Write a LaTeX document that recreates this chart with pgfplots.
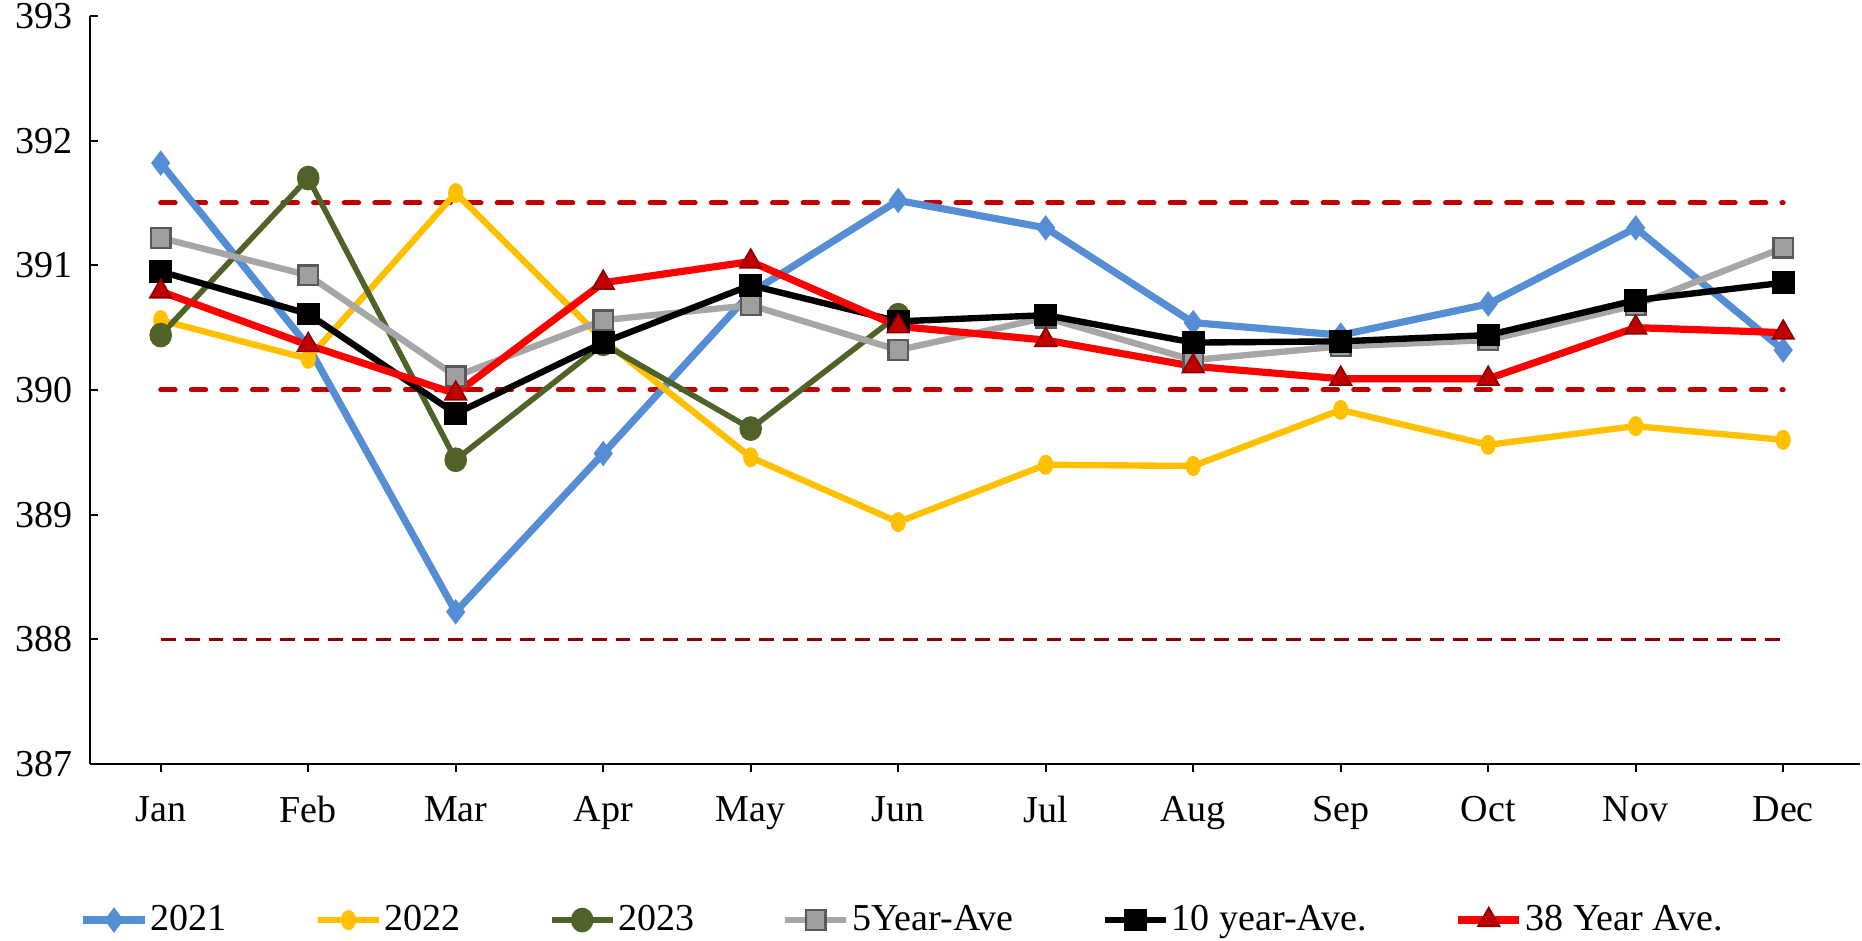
\documentclass[border=0pt]{standalone}
\usepackage{pgfplots}
\pgfplotsset{compat=1.18}
\usepackage{fontspec}
\setmainfont{Liberation Serif}
\definecolor{c21}{HTML}{558ED5}
\definecolor{c22}{HTML}{FFC000}
\definecolor{c23}{HTML}{4F6228}
\definecolor{c5y}{HTML}{A6A6A6}
\definecolor{c38}{HTML}{FF0000}
\definecolor{dr1}{HTML}{C00000}
\definecolor{dr2}{HTML}{8B0000}
\begin{document}
\begin{tikzpicture}
\begin{axis}[
  at={(33.8pt,66.2pt)}, anchor=south west,
  scale only axis, width=665.4pt, height=281.2pt,
  xmin=-0.48, xmax=11.52, ymin=387, ymax=393,
  axis x line*=bottom, axis y line*=left,
  axis line style={-, line width=0.8pt},
  xtick={0,...,11},
  xticklabels={Jan,Feb,Mar,Apr,May,Jun,Jul,Aug,Sep,Oct,Nov,Dec},
  ytick={387,...,393},
  xtick align=outside, ytick align=inside,
  major tick length=3.2pt,
  tick style={black, line width=0.8pt},
  /pgf/number format/assume math mode=true,
  /pgf/number format/1000 sep={},
  font=\fontsize{14.3}{17}\selectfont,
  yticklabel style={xshift=-3pt},
  xticklabel style={yshift=-5.5pt},
  clip=false,
  legend columns=6,
  legend style={draw=none, fill=none, at={(-0.006,-0.2087)}, anchor=west,
    inner sep=0pt, font=\fontsize{14.3}{17}\selectfont,
    nodes={inner sep=1pt, anchor=west},
    /tikz/every even column/.append style={column sep=32pt}},
  legend image code/.code={\draw[mark repeat=2,mark phase=2] plot coordinates {(0pt,0pt) (11.5pt,0pt) (23pt,0pt)};},
]
\addplot[forget plot, dr1, line width=1.9pt, dash pattern=on 5.4pt off 6.1pt, line cap=round] coordinates {(0,391.5) (11,391.5)};
\addplot[forget plot, dr1, line width=1.9pt, dash pattern=on 5.4pt off 6.1pt, line cap=round] coordinates {(0,390) (11,390)};
\addplot[forget plot, dr2, line width=1.1pt, dash pattern=on 5.6pt off 3.4pt] coordinates {(0,388) (11,388)};

\addplot[c21, line width=2.7pt, mark=diamond*, mark size=4.4pt, mark options={solid, line width=0.5pt}] coordinates {
(0,391.82) (1,390.35) (2,388.22) (3,389.49) (4,390.78) (5,391.52) (6,391.30) (7,390.54) (8,390.44) (9,390.69) (10,391.30) (11,390.32)};
\addlegendentry{2021}
\addplot[c22, line width=2.4pt, mark=*, mark size=2.6pt, mark options={solid, yscale=1.35, line width=0.5pt}] coordinates {
(0,390.56) (1,390.25) (2,391.58) (3,390.40) (4,389.46) (5,388.94) (6,389.40) (7,389.39) (8,389.84) (9,389.56) (10,389.71) (11,389.60)};
\addlegendentry{2022}
\addplot[c23, line width=2.1pt, mark=*, mark size=4pt, mark options={solid, yscale=1.1, line width=0.5pt}] coordinates {
(0,390.44) (1,391.70) (2,389.44) (3,390.37) (4,389.69) (5,390.60)};
\addlegendentry{2023}
\addplot[c5y, line width=2.4pt, mark=square*, mark size=3.7pt, mark options={solid, fill=gray!75, draw=black!65, line width=0.9pt}] coordinates {
(0,391.22) (1,390.92) (2,390.11) (3,390.56) (4,390.68) (5,390.32) (6,390.58) (7,390.24) (8,390.35) (9,390.40) (10,390.68) (11,391.14)};
\addlegendentry{5Year-Ave}
\addplot[black, line width=2.4pt, mark=square*, mark size=4pt, mark options={solid, line width=0.5pt}] coordinates {
(0,390.95) (1,390.61) (2,389.81) (3,390.38) (4,390.84) (5,390.55) (6,390.60) (7,390.38) (8,390.39) (9,390.44) (10,390.72) (11,390.86)};
\addlegendentry{10 year-Ave.}
\addplot[c38, line width=2.7pt, mark=triangle*, mark size=4.7pt, mark options={solid, fill=dr1, draw=dr2, line width=0.6pt}] coordinates {
(0,390.79) (1,390.36) (2,389.97) (3,390.86) (4,391.03) (5,390.51) (6,390.40) (7,390.19) (8,390.09) (9,390.09) (10,390.50) (11,390.46)};
\addlegendentry{38 Year Ave.}
\end{axis}
\pgfresetboundingbox
\path[use as bounding box] (0,0) rectangle (700pt,353.4pt);
\end{tikzpicture}
\end{document}
